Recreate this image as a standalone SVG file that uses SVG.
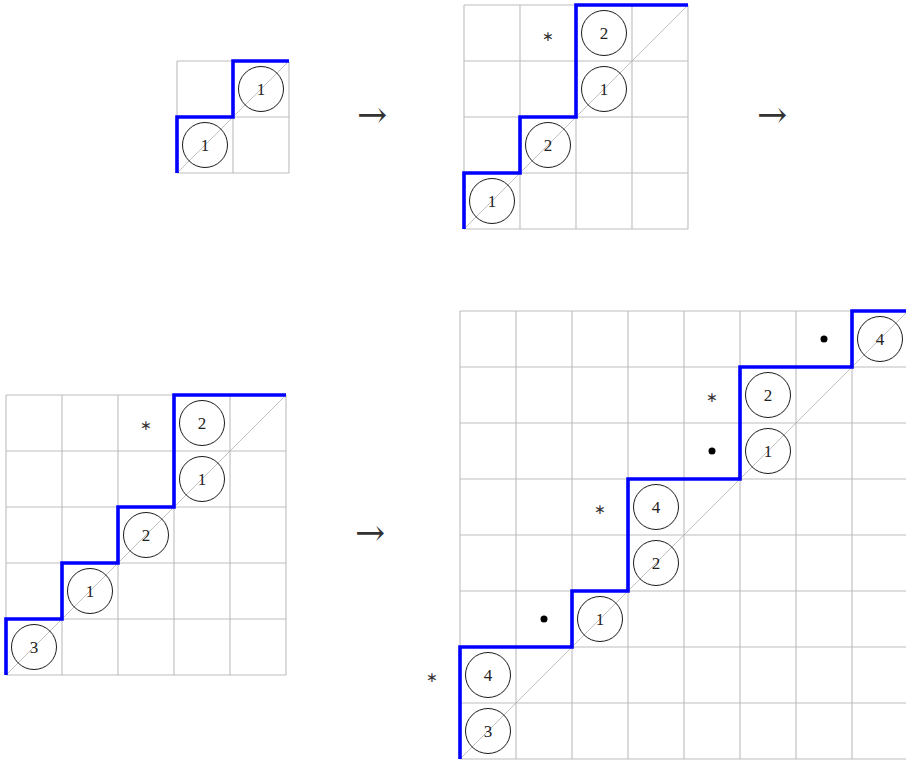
<svg xmlns="http://www.w3.org/2000/svg" width="906" height="760" viewBox="0 0 906 760">
<style>
.grid{fill:none;stroke:#bdbdbd;stroke-width:1.1}
.diag{stroke:#b0b0b0;stroke-width:0.8}
.path{fill:none;stroke:#0000ff;stroke-width:3.6;stroke-linejoin:miter;stroke-linecap:butt}
.c{fill:none;stroke:#000;stroke-width:0.9}
.t{font-family:"Liberation Serif","DejaVu Serif",serif;font-size:17px;fill:#222;text-anchor:middle}
.s{font-family:"DejaVu Sans","Liberation Sans",sans-serif;font-size:14px;fill:#333;text-anchor:middle}
.arr{font-family:"DejaVu Serif","Liberation Serif",serif;font-size:36px;fill:#333;text-anchor:middle}
.d{fill:#000}
</style>
<rect width="906" height="760" fill="#fff"/>

<g id="grid1">
<path class="grid" d="M177,61H289M177,117H289M177,173H289M177,61V173M233,61V173M289,61V173"/>
<line class="diag" x1="177" y1="173" x2="289" y2="61"/>
<polyline class="path" points="177,173 177,117 233,117 233,61 289,61"/>
<g id="g1n1"><circle class="c" cx="205" cy="145" r="22.5"/><text class="t" x="205" y="151">1</text></g>
<g id="g1n2"><circle class="c" cx="261" cy="89" r="22.5"/><text class="t" x="261" y="95">1</text></g>
</g>

<g id="grid2">
<path class="grid" d="M464,5H688M464,61H688M464,117H688M464,173H688M464,229H688M464,5V229M520,5V229M576,5V229M632,5V229M688,5V229"/>
<line class="diag" x1="464" y1="229" x2="688" y2="5"/>
<polyline class="path" points="464,229 464,173 520,173 520,117 576,117 576,5 688,5"/>
<g id="g2n1"><circle class="c" cx="492" cy="201" r="22.5"/><text class="t" x="492" y="207">1</text></g>
<g id="g2n2"><circle class="c" cx="548" cy="145" r="22.5"/><text class="t" x="548" y="151">2</text></g>
<g id="g2n3"><circle class="c" cx="604" cy="89" r="22.5"/><text class="t" x="604" y="95">1</text></g>
<g id="g2n4"><circle class="c" cx="604" cy="33" r="22.5"/><text class="t" x="604" y="39">2</text></g>
<text class="s" x="548" y="41">∗</text>
</g>

<g id="grid3">
<path class="grid" d="M6,395H286M6,451H286M6,507H286M6,563H286M6,619H286M6,675H286M6,395V675M62,395V675M118,395V675M174,395V675M230,395V675M286,395V675"/>
<line class="diag" x1="6" y1="675" x2="286" y2="395"/>
<polyline class="path" points="6,675 6,619 62,619 62,563 118,563 118,507 174,507 174,395 286,395"/>
<g id="g3n1"><circle class="c" cx="34" cy="647" r="22.5"/><text class="t" x="34" y="653">3</text></g>
<g id="g3n2"><circle class="c" cx="90" cy="591" r="22.5"/><text class="t" x="90" y="597">1</text></g>
<g id="g3n3"><circle class="c" cx="146" cy="535" r="22.5"/><text class="t" x="146" y="541">2</text></g>
<g id="g3n4"><circle class="c" cx="202" cy="479" r="22.5"/><text class="t" x="202" y="485">1</text></g>
<g id="g3n5"><circle class="c" cx="202" cy="423" r="22.5"/><text class="t" x="202" y="429">2</text></g>
<text class="s" x="146" y="430">∗</text>
</g>

<g id="grid4">
<path class="grid" d="M460,311H908M460,367H908M460,423H908M460,479H908M460,535H908M460,591H908M460,647H908M460,703H908M460,759H908M460,311V759M516,311V759M572,311V759M628,311V759M684,311V759M740,311V759M796,311V759M852,311V759"/>
<line class="diag" x1="460" y1="759" x2="908" y2="311"/>
<polyline class="path" points="460,759 460,647 572,647 572,591 628,591 628,479 740,479 740,367 852,367 852,311 908,311"/>
<g id="g4n1"><circle class="c" cx="488" cy="731" r="22.5"/><text class="t" x="488" y="737">3</text></g>
<g id="g4n2"><circle class="c" cx="488" cy="675" r="22.5"/><text class="t" x="488" y="681">4</text></g>
<g id="g4n3"><circle class="c" cx="600" cy="619" r="22.5"/><text class="t" x="600" y="625">1</text></g>
<g id="g4n4"><circle class="c" cx="656" cy="563" r="22.5"/><text class="t" x="656" y="569">2</text></g>
<g id="g4n5"><circle class="c" cx="656" cy="507" r="22.5"/><text class="t" x="656" y="513">4</text></g>
<g id="g4n6"><circle class="c" cx="768" cy="451" r="22.5"/><text class="t" x="768" y="457">1</text></g>
<g id="g4n7"><circle class="c" cx="768" cy="395" r="22.5"/><text class="t" x="768" y="401">2</text></g>
<g id="g4n8"><circle class="c" cx="880" cy="339" r="22.5"/><text class="t" x="880" y="345">4</text></g>
<text class="s" x="432" y="682">∗</text>
<text class="s" x="600" y="514">∗</text>
<text class="s" x="712" y="402">∗</text>
<circle class="d" cx="544" cy="619" r="3.5"/>
<circle class="d" cx="712" cy="451" r="3.5"/>
<circle class="d" cx="824" cy="339" r="3.5"/>
</g>

<g id="connectors">
<text class="arr" x="372" y="127">→</text>
<text class="arr" x="772" y="127">→</text>
<text class="arr" x="370" y="545">→</text>
</g>
</svg>
